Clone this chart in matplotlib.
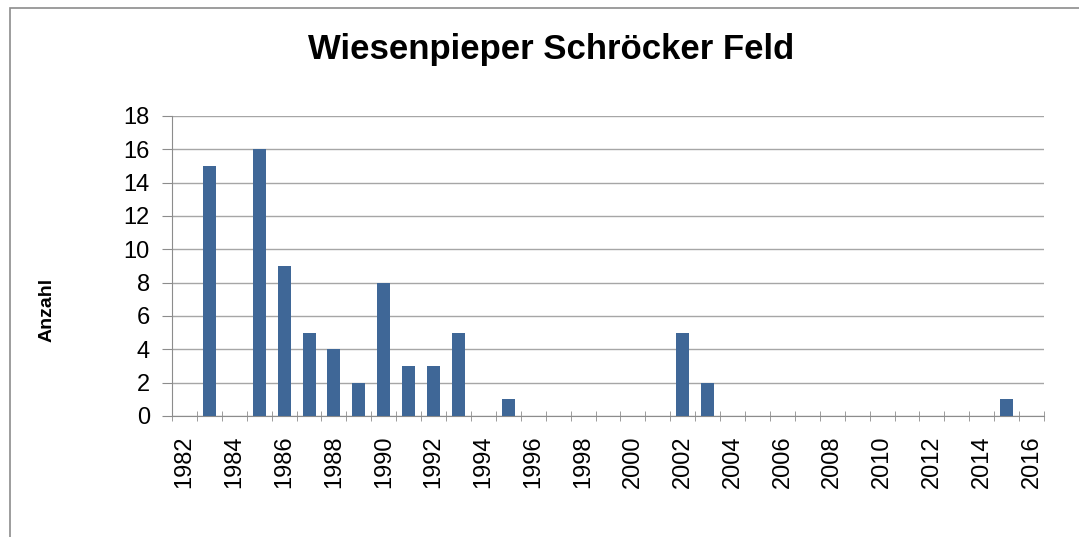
import matplotlib.pyplot as plt
import numpy as np
from matplotlib.patches import Rectangle

years = np.arange(1982, 2017)
bar_years = [1983, 1985, 1986, 1987, 1988, 1989, 1990, 1991, 1992, 1993, 1995, 2002, 2003, 2015]
bar_counts = [15, 16, 9, 5, 4, 2, 8, 3, 3, 5, 1, 5, 2, 1]
label_years = years[::2]

plt.rcParams['font.family'] = ['Liberation Sans', 'DejaVu Sans']

fig = plt.figure(figsize=(10.79, 5.37), dpi=100)
ax = fig.add_axes([172/1079, 1-416/537, 872/1079, 300/537])

# bars by category index
pos = [list(years).index(y) for y in bar_years]
ax.bar(pos, bar_counts, width=0.52, color="#3F6797", zorder=3)

ax.set_xlim(-0.5, len(years) - 0.5)
ax.set_ylim(0, 18)
ax.set_yticks(np.arange(0, 19, 2))
ax.grid(axis="y", color="#a6a6a6", linewidth=1, zorder=0)

# year labels every 2nd year, tick marks on category borders
ax.set_xticks([list(years).index(y) for y in label_years])
ax.set_xticklabels([str(y) for y in label_years], rotation=90)
ax.set_xticks(np.arange(-0.5, len(years)), minor=True)
ax.tick_params(axis="x", which="major", length=0, pad=14, labelsize=17)
ax.tick_params(axis="x", which="minor", length=7, direction="inout", color="#8c8c8c")
ax.tick_params(axis="y", length=7, color="#8c8c8c", pad=9, labelsize=17)

for s in ["top", "right"]:
    ax.spines[s].set_visible(False)
for s in ["left", "bottom"]:
    ax.spines[s].set_color("#8c8c8c")

fig.text(551/1079, 1-50/537, "Wiesenpieper Schröcker Feld", fontsize=25,
         fontweight="bold", ha="center", va="center")
fig.text(47/1079, 1-310/537, "Anzahl", fontsize=14, fontweight="bold",
         rotation=90, ha="center", va="center")

# chart frame (cut off at right and bottom)
fig.patches.append(Rectangle((10/1079, -0.1), 1.2, 1.1 - 8/537 + 0.0, transform=fig.transFigure,
                             fill=False, edgecolor="#8c8c8c", linewidth=1.2))

fig.savefig("out.png", dpi=100)
